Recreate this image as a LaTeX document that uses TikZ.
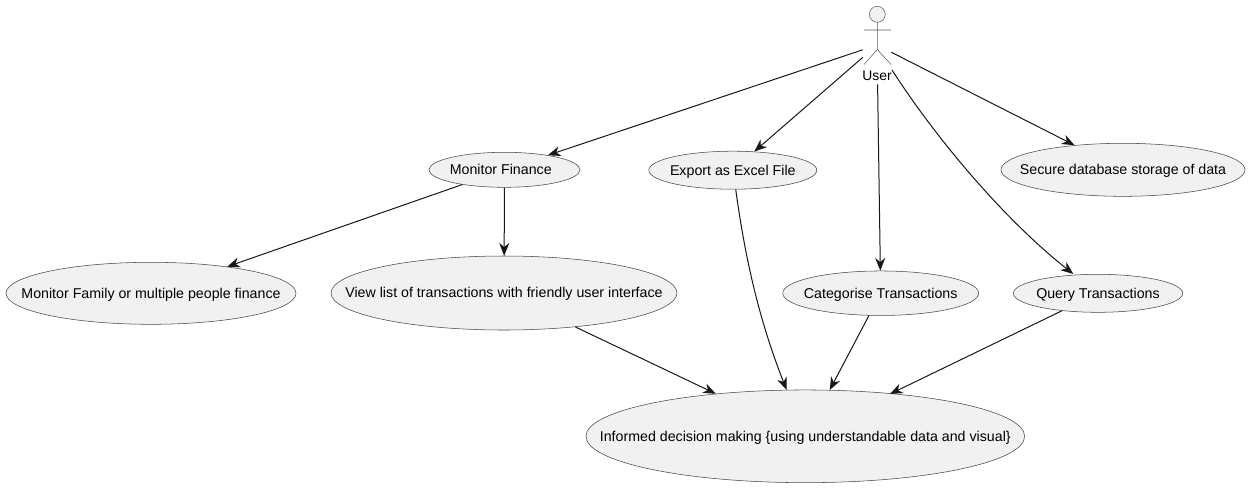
\documentclass[tikz,border=0pt]{standalone}
\usepackage{fontspec}
\setmainfont{Liberation Sans}
\usetikzlibrary{arrows.meta,shapes.geometric}
\definecolor{ucfill}{HTML}{F1F1F1}
\definecolor{ucline}{HTML}{181818}
\newcommand{\uctext}[1]{\makebox[0pt]{#1}}
\tikzset{
  usecase/.style={ellipse,draw=ucline!80,line width=0.4pt,fill=ucfill,inner sep=0pt,font=\fontsize{10.66pt}{12pt}\selectfont,text=black,text height=9.2pt,text depth=2pt},
  link/.style={draw=ucline,line width=0.75pt,-{Stealth[length=9.5pt,width=7.5pt,inset=3pt]}},
  actorline/.style={draw=ucline!70,line width=0.4pt},
}
\begin{document}
\begin{tikzpicture}[x=0.75pt,y=-0.75pt]
\useasboundingbox (0,0) rectangle (1249,487);
\fill[white] (0,0) rectangle (1249,487);
\node[usecase,minimum width=151*0.75pt,minimum height=35*0.75pt] (mf) at (504.5,169.8) {\uctext{Monitor Finance\hspace{5.6pt}}};
\node[usecase,minimum width=168*0.75pt,minimum height=38*0.75pt] (ex) at (732.8,170.2) {\uctext{Export as Excel File}};
\node[usecase,minimum width=244*0.75pt,minimum height=53*0.75pt] (sec) at (1123,169.8) {\uctext{Secure database storage of data}};
\node[usecase,minimum width=290*0.75pt,minimum height=62*0.75pt] (fam) at (151,293.3) {\uctext{Monitor Family or multiple people finance}};
\node[usecase,minimum width=346*0.75pt,minimum height=74*0.75pt] (view) at (504,293) {\uctext{View list of transactions with friendly user interface}};
\node[usecase,minimum width=196*0.75pt,minimum height=44.5*0.75pt] (cat) at (880.7,293.2) {\uctext{Categorise Transactions}};
\node[usecase,minimum width=169.4*0.75pt,minimum height=38*0.75pt] (qry) at (1098,293.3) {\uctext{Query Transactions}};
\node[usecase,minimum width=438.7*0.75pt,minimum height=92.7*0.75pt] (inf) at (805.3,436.3) {\uctext{Informed decision making \{using understandable data and visual\}}};
% actor
\node[draw=none,minimum width=28*0.75pt,minimum height=78*0.75pt,inner sep=0pt] (user) at (877,45) {};
\node[font=\fontsize{10.4pt}{12pt}\selectfont,inner sep=0pt] (userlabel) at (877,75.5) {User};
\draw[actorline,fill=ucfill] (877.3,14.3) circle[radius=8*0.75pt];
\draw[actorline] (877.3,22.3) -- (877.3,49.5) (864,30) -- (891,30) (864,64.5) -- (877.3,49.5) -- (891,64.5);
% connectors
\coordinate (qstart) at (892,70);
\coordinate (qend) at (1073.3,274);
\coordinate (exstart) at (735.7,189.3);
\coordinate (exend) at (786.7,390);
\coordinate (qryend) at (890,394);
\draw[link] (user) -- (mf);
\draw[link] (user) -- (ex);
\draw[link] (user) -- (cat);
\draw[link] (user) -- (sec);
\draw[link] (qstart) .. controls (937,140) and (1005,220) .. (qend);
\draw[link] (mf) -- (fam);
\draw[link] (mf) -- (view);
\draw[link] (exstart) .. controls (744,250) and (757,315) .. (exend);
\draw[link] (view) -- (inf);
\draw[link] (cat) -- (inf);
\draw[link] (qry) -- (qryend);
\end{tikzpicture}
\end{document}
